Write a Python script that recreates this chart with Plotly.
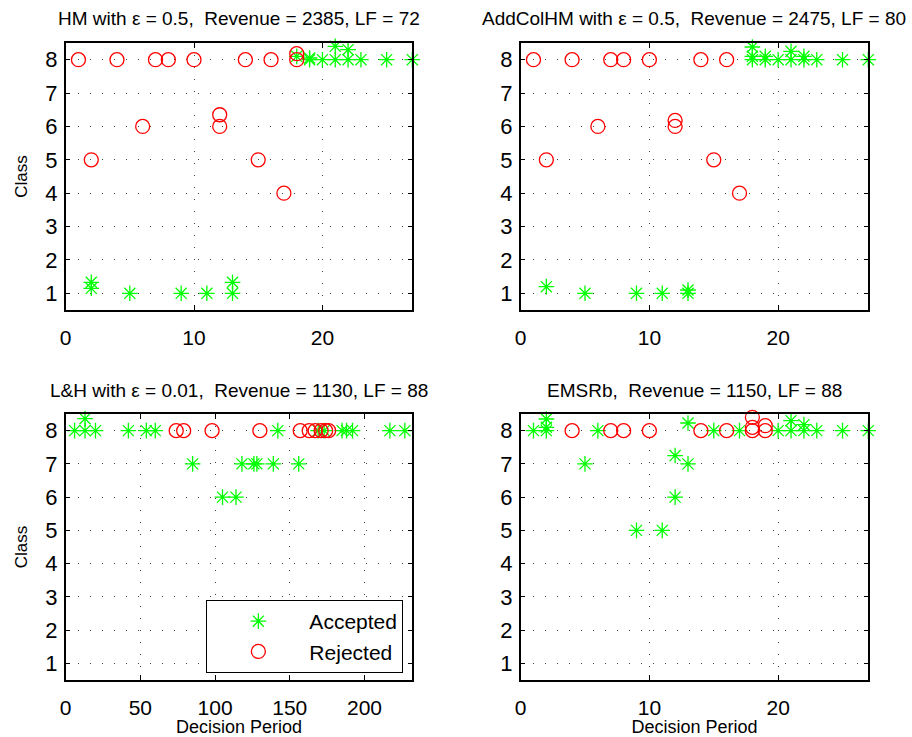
import plotly.graph_objects as go

# ---------------- data ----------------
hm_acc_x = [2, 2, 5, 9, 11, 13, 13, 18, 19, 19, 20, 21, 21, 22, 22, 23, 25, 27]
hm_acc_y = [1.33, 1.15, 1, 1, 1, 1, 1.33, 8.1, 8, 8.05, 8, 8, 8.4, 8, 8.3, 8, 8, 8]
hm_rej_x = [1, 4, 7, 8, 10, 14, 16, 18, 18, 6, 12, 12, 2, 15, 17]
hm_rej_y = [8, 8, 8, 8, 8, 8, 8, 8, 8.18, 6, 6, 6.35, 5, 5, 4]

ac_acc_x = [2, 5, 9, 11, 13, 13, 18, 18, 18, 19, 19, 20, 21, 21, 22, 22, 23, 25, 27]
ac_acc_y = [1.2, 1, 1, 1, 1, 1.1, 8, 8.1, 8.38, 8, 8.1, 8, 8, 8.25, 8, 8.1, 8, 8, 8]
ac_rej_x = [1, 4, 7, 8, 10, 14, 16, 6, 12, 12, 2, 15, 17]
ac_rej_y = [8, 8, 8, 8, 8, 8, 8, 6, 6, 6.18, 5, 5, 4]

lh_acc_x = [6, 13, 13, 20, 42, 54, 60, 142, 169, 173, 185, 188, 192, 217, 227,
            85, 118, 126, 128, 139, 156, 105, 114]
lh_acc_y = [8, 8, 8.36, 8, 8, 8, 8, 8, 8, 8, 8, 8, 8, 8, 8,
            7, 7, 7, 7, 7, 7, 6, 6]
lh_rej_x = [74, 79, 98, 130, 157, 163, 167, 171, 174, 176]
lh_rej_y = [8, 8, 8, 8, 8, 8, 8, 8, 8, 8]

em_acc_x = [1, 2, 2, 2, 6, 15, 17, 20, 21, 21, 22, 22, 23, 25, 27, 13, 5, 12, 13, 12, 9, 11]
em_acc_y = [8, 8, 8.1, 8.35, 8, 8, 8, 8, 8, 8.3, 8, 8.18, 8, 8, 8, 8.23, 7, 7.25, 7, 6, 5, 5]
em_rej_x = [4, 7, 8, 10, 14, 16, 18, 18, 18, 19, 19]
em_rej_y = [8, 8, 8, 8, 8, 8, 8, 8.1, 8.4, 8, 8.15]

titles = ["HM with \u03b5 = 0.5,  Revenue = 2385, LF = 72",
          "AddColHM with \u03b5 = 0.5,  Revenue = 2475, LF = 80",
          "L&H with \u03b5 = 0.01,  Revenue = 1130, LF = 88",
          "EMSRb,  Revenue = 1150, LF = 88"]
x_ranges = [[0, 27], [0, 27], [0, 232], [0, 27]]
x_ticks = [[0, 10, 20], [0, 10, 20], [0, 50, 100, 150, 200], [0, 10, 20]]
y_ticks = [1, 2, 3, 4, 5, 6, 7, 8]
x_label = "Decision Period"
y_label = "Class"

# ---------------- layout geometry ----------------
W, H = 912, 737
FONT = "Liberation Sans, Arial, Helvetica, sans-serif"
GREEN = "#00ff00"
RED = "#ff0000"

px_boxes = [  # left, right, top, bottom in pixels
    (60, 409, 43, 310),
    (518, 868, 43, 310),
    (60, 409, 414, 680),
    (518, 868, 414, 680),
]

data_sets = [
    (hm_acc_x, hm_acc_y, hm_rej_x, hm_rej_y),
    (ac_acc_x, ac_acc_y, ac_rej_x, ac_rej_y),
    (lh_acc_x, lh_acc_y, lh_rej_x, lh_rej_y),
    (em_acc_x, em_acc_y, em_rej_x, em_rej_y),
]

fig = go.Figure()
layout = dict(
    width=W, height=H,
    margin=dict(l=0, r=0, t=0, b=0),
    paper_bgcolor="white", plot_bgcolor="white",
    font=dict(family=FONT, color="black", size=19),
    annotations=[],
)

for i, ((l, r, t, b), (ax_, ay_, rx_, ry_)) in enumerate(zip(px_boxes, data_sets)):
    n = i + 1
    xa = "x" if n == 1 else f"x{n}"
    ya = "y" if n == 1 else f"y{n}"
    show = (i == 2)
    fig.add_trace(go.Scatter(
        x=ax_, y=ay_, xaxis=xa, yaxis=ya, mode="markers", name="Accepted",
        legendgroup="acc", showlegend=show, cliponaxis=False,
        marker=dict(symbol="asterisk-open", size=13, color=GREEN,
                    line=dict(color=GREEN, width=1.3)),
    ))
    fig.add_trace(go.Scatter(
        x=rx_, y=ry_, xaxis=xa, yaxis=ya, mode="markers", name="Rejected",
        legendgroup="rej", showlegend=show, cliponaxis=False,
        marker=dict(symbol="circle-open", size=14, color=RED,
                    line=dict(color=RED, width=1.3)),
    ))
    common = dict(
        showline=True, linecolor="black", linewidth=1.5, mirror="ticks",
        ticks="inside", ticklen=5, tickwidth=1, tickcolor="black",
        showgrid=True, gridcolor="#444444", gridwidth=1, griddash="1px,11px",
        zeroline=False,
    )
    xdict = dict(common, domain=[l / W, r / W], range=x_ranges[i],
                 tickvals=x_ticks[i], anchor=ya, ticklabelstandoff=8,
                 tickfont=dict(size=21, family=FONT))
    ydict = dict(common, domain=[1 - b / H, 1 - t / H], range=[0.5, 8.5],
                 tickvals=y_ticks, anchor=xa, ticklabelstandoff=2,
                 tickfont=dict(size=22, family=FONT))
    if i >= 2:
        xdict["title"] = dict(text=x_label, font=dict(size=18, family=FONT), standoff=5)
    if i % 2 == 0:
        ydict["title"] = dict(text=y_label, font=dict(size=17, family=FONT), standoff=13)
    layout["xaxis" if n == 1 else f"xaxis{n}"] = xdict
    layout["yaxis" if n == 1 else f"yaxis{n}"] = ydict
    layout["annotations"].append(dict(
        text=titles[i], x=(l + r) / 2 / W, y=1 - (t - 24) / H,
        xref="paper", yref="paper", xanchor="center", yanchor="middle",
        showarrow=False, font=dict(size=19, family=FONT),
    ))

layout["legend"] = dict(
    x=400 / W, y=1 - 673 / H, xanchor="right", yanchor="bottom",
    bgcolor="white", bordercolor="black", borderwidth=1,
    font=dict(size=21, family=FONT), itemwidth=92, tracegroupgap=0,
)

fig.update_layout(**layout)
fig.write_html("out.html")
